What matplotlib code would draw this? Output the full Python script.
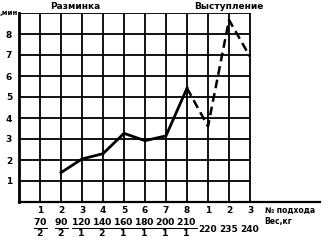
import matplotlib
matplotlib.use("Agg")
import matplotlib.pyplot as plt

# attempt numbers along x (warm-up 1..8, competition 1..3)
attempt_labels = ["1", "2", "3", "4", "5", "6", "7", "8", "1", "2", "3"]
weight_top = ["70", "90", "120", "140", "160", "180", "200", "210"]
weight_bottom = ["2", "2", "1", "2", "1", "1", "1", "1"]
weight_single = ["220", "235", "240"]

# time values (min) at each attempt position
warmup_x = [2, 3, 4, 5, 6, 7, 8]
warmup_y = [1.4, 2.05, 2.3, 3.27, 2.92, 3.15, 5.42]
comp_x = [8, 9, 10, 11]
comp_y = [5.42, 3.6, 8.67, 6.92]

y_ticks = [1, 2, 3, 4, 5, 6, 7, 8]

W, H = 330, 248
fig = plt.figure(figsize=(W / 100, H / 100), dpi=100)
ax = fig.add_axes([19 / W, 1 - 202 / H, (320 - 19) / W, (202 - 13) / H])
x_max = (320 - 19) / 21.0
ax.set_xlim(0, x_max)
ax.set_ylim(0, 9)

for s in ["top", "right"]:
    ax.spines[s].set_visible(False)
ax.spines["left"].set_linewidth(2.0)
ax.spines["bottom"].set_linewidth(1.6)
ax.spines["left"].set_bounds(0, 9)

n = len(attempt_labels)
ax.hlines(range(1, 10), 0, n, colors="black", linewidth=1.3)
ax.vlines(range(1, n + 1), 0, 9, colors="black", linewidth=1.3)

ax.plot(warmup_x, warmup_y, color="black", linewidth=2.0, solid_joinstyle="round")
ax.plot(comp_x, comp_y, color="black", linewidth=1.8, linestyle=(0, (3.5, 2)))

ax.set_xticks([])
ax.set_yticks(y_ticks)
ax.set_yticklabels([str(v) for v in y_ticks], fontsize=6.5, fontweight="bold")
ax.tick_params(axis="y", length=0, pad=5)

fs = 6.5
tr = ax.get_xaxis_transform()
for i, lab in enumerate(attempt_labels):
    ax.text(i + 1, -0.045, lab, transform=tr, ha="center", va="center",
            fontsize=fs, fontweight="bold")
for i, (t, b) in enumerate(zip(weight_top, weight_bottom)):
    ax.text(i + 1, -0.143, f"$\\mathbf{{\\frac{{{t}}}{{{b}}}}}$", transform=tr,
            ha="center", va="center", fontsize=9.5)
for j, lab in enumerate(weight_single):
    ax.text(len(weight_top) + j + 1, -0.148, lab, transform=tr, ha="center",
            va="center", fontsize=fs, fontweight="bold")

ax.text(11.7, -0.045, "№ подхода", transform=tr, ha="left", va="center",
        fontsize=5.5, fontweight="bold")
ax.text(11.7, -0.105, "Вес,кг", transform=tr, ha="left", va="center",
        fontsize=5.5, fontweight="bold")

ax.text(-0.05, 9.0, ",мин", ha="right", va="center", fontsize=5,
        fontweight="bold")
ax.text(2.7, 1.037, "Разминка", transform=tr, ha="center", va="center",
        fontsize=6.5, fontweight="bold")
ax.text(10.0, 1.037, "Выступление", transform=tr, ha="center", va="center",
        fontsize=6.5, fontweight="bold")

fig.savefig("out.png", dpi=100)
